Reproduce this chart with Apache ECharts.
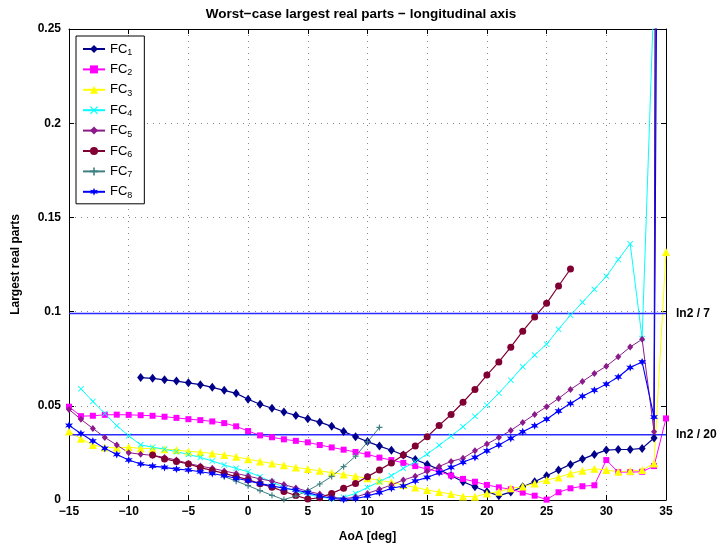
<!DOCTYPE html>
<html>
<head>
<meta charset="utf-8">
<script src="https://cdn.jsdelivr.net/npm/echarts@6/dist/echarts.min.js"></script>
<style>
  html, body { margin: 0; padding: 0; background: #fff; }
  #chart { width: 722px; height: 550px; }
</style>
</head>
<body>
<div id="chart"></div>
<script>
// Angle-of-attack sweep, one point per degree
const xTicks = [-15, -10, -5, 0, 5, 10, 15, 20, 25, 30, 35];
const yTicks = [0, 0.05, 0.1, 0.15, 0.2, 0.25];

// Worst-case largest real part per flight condition; each list starts at its own AoA
const fc1Start = -9;
const fc1 = [0.065, 0.0646, 0.0638, 0.0631, 0.0622, 0.0612, 0.0598, 0.0582, 0.0566, 0.0535,
  0.0508, 0.0487, 0.0467, 0.0449, 0.0431, 0.0413, 0.0391, 0.0364, 0.0336, 0.0310,
  0.0286, 0.0264, 0.0239, 0.0215, 0.0189, 0.0162, 0.0130, 0.0097, 0.0070, 0.0044,
  0.0023, 0.0042, 0.0070, 0.0097, 0.0129, 0.0159, 0.0189, 0.0217, 0.0242, 0.0265,
  0.0268, 0.0268, 0.0274, 0.0329, 2.5];

const fc2Start = -15;
const fc2 = [0.0495, 0.0445, 0.0447, 0.0452, 0.0453, 0.0452, 0.0450, 0.0447, 0.0442, 0.0436,
  0.0429, 0.0424, 0.0417, 0.0408, 0.0391, 0.0366, 0.0343, 0.0333, 0.0322, 0.0314,
  0.0306, 0.0292, 0.0279, 0.0267, 0.0255, 0.0242, 0.0225, 0.0212, 0.0197, 0.0180,
  0.0164, 0.0150, 0.0130, 0.0112, 0.0097, 0.0080, 0.0067, 0.0057, 0.0039, 0.0023,
  0.0002, 0.0041, 0.0062, 0.0073, 0.0078, 0.0212, 0.0148, 0.0148, 0.0150, 0.0180,
  0.0433];

const fc3Start = -15;
const fc3 = [0.0364, 0.0325, 0.0292, 0.0279, 0.0277, 0.0280, 0.0274, 0.0274, 0.0270, 0.0265,
  0.0258, 0.0254, 0.0247, 0.0239, 0.0230, 0.0216, 0.0205, 0.0194, 0.0184, 0.0173,
  0.0164, 0.0155, 0.0145, 0.0136, 0.0126, 0.0115, 0.0104, 0.0094, 0.0080, 0.0067,
  0.0053, 0.0042, 0.0032, 0.0019, 0.0017, 0.0035, 0.0044, 0.0062, 0.0071, 0.0088,
  0.0106, 0.0120, 0.0141, 0.0155, 0.0166, 0.0159, 0.0150, 0.0154, 0.0159, 0.0194,
  0.1316];

const fc4Start = -14;
const fc4 = [0.059, 0.0523, 0.0459, 0.0394, 0.0341, 0.0293, 0.0280, 0.0270, 0.0256, 0.0242,
  0.0226, 0.0207, 0.0186, 0.0168, 0.0150, 0.0124, 0.0095, 0.0068, 0.0047, 0.0030,
  0.0016, 0.0008, 0.0015, 0.0035, 0.0067, 0.0097, 0.0129, 0.0168, 0.0203, 0.0244,
  0.0290, 0.0339, 0.0389, 0.0444, 0.0503, 0.0567, 0.0636, 0.0707, 0.0769, 0.0827,
  0.0906, 0.0981, 0.1049, 0.1118, 0.1187, 0.1276, 0.1360, 0.0857, 0.27];

const fc5Start = -15;
const fc5 = [0.0481, 0.0428, 0.0380, 0.0332, 0.0292, 0.0251, 0.0243, 0.0237, 0.0226, 0.0212,
  0.0194, 0.0180, 0.0168, 0.0154, 0.0141, 0.0127, 0.0112, 0.0100, 0.0082, 0.0064,
  0.0046, 0.0032, 0.0016, 0.0006, 0.0016, 0.0035, 0.0057, 0.0080, 0.0106, 0.0126,
  0.0152, 0.0178, 0.0205, 0.0222, 0.0261, 0.0297, 0.0332, 0.0369, 0.0412, 0.0454,
  0.0495, 0.0539, 0.0587, 0.0629, 0.0671, 0.0710, 0.0760, 0.0812, 0.0853, 0.0362,
  1.6];

const fc6Start = -8;
const fc6 = [0.0239, 0.0218, 0.0205, 0.0191, 0.0172, 0.0157, 0.0141, 0.0124, 0.0108, 0.0086,
  0.0068, 0.0045, 0.0024, 0.0005, 0.0012, 0.0035, 0.0062, 0.0088, 0.0124, 0.0159,
  0.0197, 0.0239, 0.0286, 0.0336, 0.0396, 0.0454, 0.0519, 0.0587, 0.0663, 0.0733,
  0.0811, 0.0896, 0.0972, 0.1044, 0.1136, 0.1226];

const fc7Start = -2;
const fc7 = [0.0125, 0.0100, 0.0076, 0.0050, 0.0025, 0.0002, 0.0021, 0.0050, 0.0085, 0.0125,
  0.0177, 0.0233, 0.0308, 0.0385];

const fc8Start = -15;
const fc8 = [0.0396, 0.0353, 0.0313, 0.0274, 0.0242, 0.0212, 0.0191, 0.0180, 0.0173, 0.0164,
  0.0159, 0.0150, 0.0141, 0.0129, 0.0115, 0.0102, 0.0087, 0.0075, 0.0062, 0.0053,
  0.0039, 0.0021, 0.0009, 0.0002, 0.0007, 0.0021, 0.0039, 0.0062, 0.0074, 0.0101,
  0.0120, 0.0145, 0.0173, 0.0200, 0.0226, 0.0261, 0.0292, 0.0327, 0.0362, 0.0394,
  0.0429, 0.0472, 0.0512, 0.0551, 0.0583, 0.0615, 0.0653, 0.0703, 0.0733, 0.0440,
  1.07];

// Time-to-double reference levels
const thresholdNames = ['ln2 / 7', 'ln2 / 20'];
const thresholdValues = [Math.LN2 / 7, Math.LN2 / 20];

const FONT = '"Liberation Sans", Arial, Helvetica, sans-serif';

function pairs(start, vals) {
  return vals.map((v, i) => [start + i, v]);
}

function starPath(points, rOut, rIn) {
  let d = '';
  const n = points * 2;
  for (let i = 0; i < n; i++) {
    const a = -Math.PI / 2 + i * Math.PI / points;
    const r = i % 2 === 0 ? rOut : rIn;
    const x = (10 + r * Math.cos(a)).toFixed(2);
    const y = (10 + r * Math.sin(a)).toFixed(2);
    d += (i === 0 ? 'M' : 'L') + x + ',' + y;
  }
  return 'path://' + d + 'Z';
}

const plusSym = 'path://M4,0H6V4H10V6H6V10H4V6H0V4H4Z';
const crossSym = 'path://M1,0L5,4L9,0L10,1L6,5L10,9L9,10L5,6L1,10L0,9L4,5L0,1Z';
const astSym = starPath(6, 10, 4.5);

const styles = [
  { name: 'FC1', color: '#00008B', symbol: 'diamond', size: [7, 9], width: 1.2 },
  { name: 'FC2', color: '#FF00FF', symbol: 'rect', size: 6, width: 1 },
  { name: 'FC3', color: '#FFFF00', symbol: 'triangle', size: 8, width: 1 },
  { name: 'FC4', color: '#00FFFF', symbol: crossSym, size: 6, width: 1 },
  { name: 'FC5', color: '#8B1A8B', symbol: 'diamond', size: [6, 7], width: 1 },
  { name: 'FC6', color: '#800033', symbol: 'circle', size: 7, width: 1.2 },
  { name: 'FC7', color: '#3F8080', symbol: plusSym, size: 6, width: 1 },
  { name: 'FC8', color: '#0000FF', symbol: astSym, size: 8, width: 1.1 }
];
const seriesData = [
  pairs(fc1Start, fc1), pairs(fc2Start, fc2), pairs(fc3Start, fc3), pairs(fc4Start, fc4),
  pairs(fc5Start, fc5), pairs(fc6Start, fc6), pairs(fc7Start, fc7), pairs(fc8Start, fc8)
];

const series = styles.map((s, i) => ({
  name: s.name,
  type: 'line',
  data: seriesData[i],
  clip: true,
  symbol: s.symbol,
  symbolSize: s.size,
  showAllSymbol: true,
  lineStyle: { color: s.color, width: s.width },
  itemStyle: { color: s.color },
  emphasis: { disabled: true },
  animation: false
}));

thresholdValues.forEach((v, i) => {
  series.push({
    name: thresholdNames[i],
    type: 'line',
    data: [[xTicks[0], v], [xTicks[xTicks.length - 1], v]],
    symbol: 'none',
    lineStyle: { color: '#2B2BFF', width: 1.5 },
    itemStyle: { color: '#2B2BFF' },
    endLabel: {
      show: true,
      formatter: thresholdNames[i],
      distance: 10,
      color: '#000',
      fontFamily: FONT,
      fontWeight: 'bold',
      fontSize: 12
    },
    emphasis: { disabled: true },
    animation: false,
    z: 3
  });
});

const gridLine = { show: true, lineStyle: { color: '#8a8a8a', type: [1, 5], width: 1 } };
const axisLabelStyle = { color: '#000', fontFamily: FONT, fontWeight: 'bold', fontSize: 12 };
const boxLine = { show: true, onZero: false, lineStyle: { color: '#000', width: 1 } };
const innerTick = { show: true, inside: true, length: 5, lineStyle: { color: '#000' } };

const chart = echarts.init(document.getElementById('chart'), null, { renderer: 'canvas' });
chart.setOption({
  backgroundColor: '#fff',
  animation: false,
  title: {
    text: 'Worst\u2212case largest real parts \u2212 longitudinal axis',
    left: 'center',
    top: 2,
    textStyle: { fontFamily: FONT, fontWeight: 'bold', fontSize: 13.5, color: '#000' }
  },
  grid: { left: 69, right: 56, top: 29, bottom: 50, containLabel: false },
  legend: {
    data: styles.map(s => s.name),
    orient: 'vertical',
    left: 76,
    top: 36,
    width: 68,
    padding: [4, 12, 4, 6],
    itemGap: 3.4,
    itemWidth: 22,
    itemHeight: 10,
    backgroundColor: '#fff',
    borderColor: '#000',
    borderWidth: 1,
    borderRadius: 0,
    selectedMode: false,
    formatter: name => 'FC{s|' + name.slice(2) + '}',
    textStyle: {
      fontFamily: FONT,
      fontSize: 13,
      color: '#000',
      lineHeight: 16,
      rich: {
        s: { fontFamily: FONT, fontSize: 9, color: '#000', verticalAlign: 'bottom', lineHeight: 16, padding: [8, 0, 0, 0] }
      }
    }
  },
  xAxis: [{
    type: 'value',
    min: xTicks[0],
    max: xTicks[xTicks.length - 1],
    interval: 5,
    name: 'AoA [deg]',
    nameLocation: 'middle',
    nameGap: 31,
    nameTextStyle: { fontFamily: FONT, fontWeight: 'bold', fontSize: 12, color: '#000' },
    axisLine: boxLine,
    axisTick: innerTick,
    axisLabel: Object.assign({ margin: 6, formatter: v => String(v).replace('-', '\u2212') }, axisLabelStyle),
    splitLine: gridLine
  }, {
    type: 'value',
    position: 'top',
    min: xTicks[0],
    max: xTicks[xTicks.length - 1],
    interval: 5,
    axisLine: boxLine,
    axisTick: innerTick,
    axisLabel: { show: false },
    splitLine: { show: false }
  }],
  yAxis: [{
    type: 'value',
    min: yTicks[0],
    max: yTicks[yTicks.length - 1],
    interval: 0.05,
    name: 'Largest real parts',
    nameLocation: 'middle',
    nameGap: 47,
    nameTextStyle: { fontFamily: FONT, fontWeight: 'bold', fontSize: 12, color: '#000' },
    axisLine: boxLine,
    axisTick: innerTick,
    axisLabel: Object.assign({ margin: 8, formatter: v => yTicks.indexOf(v) >= 0 ? String(+v.toFixed(2)) : '' }, axisLabelStyle),
    splitLine: gridLine
  }, {
    type: 'value',
    position: 'right',
    min: yTicks[0],
    max: yTicks[yTicks.length - 1],
    interval: 0.05,
    axisLine: boxLine,
    axisTick: innerTick,
    axisLabel: { show: false },
    splitLine: { show: false }
  }],
  series: series
});
</script>
</body>
</html>
